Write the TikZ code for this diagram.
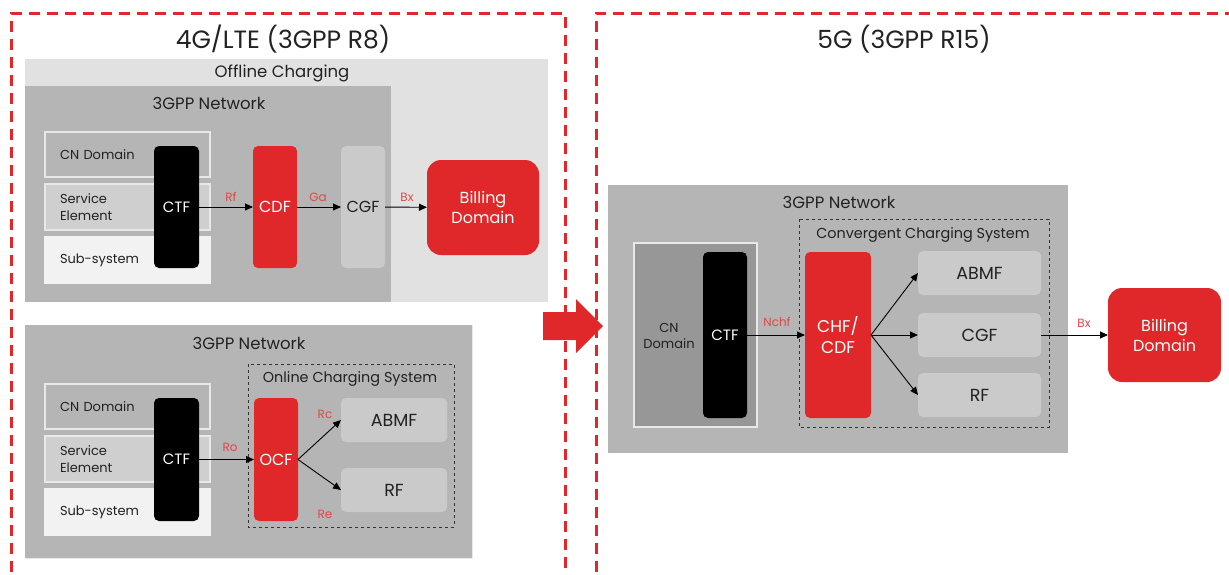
\documentclass[tikz,border=0pt]{standalone}
\usepackage{fontspec}
\setmainfont{Poppins}
\usetikzlibrary{arrows.meta}

\definecolor{chred}{HTML}{E0282A}
\definecolor{ifcred}{HTML}{E04848}
\definecolor{offgray}{HTML}{E1E1E1}
\definecolor{netgray}{HTML}{B5B5B5}
\definecolor{fungray}{HTML}{CACACA}
\definecolor{segray}{HTML}{CFCFCF}
\definecolor{subgray}{HTML}{F2F2F2}
\definecolor{cngray}{HTML}{979797}
\definecolor{edgegray}{HTML}{E8E8E8}
\definecolor{txtgray}{HTML}{222222}

\newcommand{\fs}[1]{\fontsize{#1}{\dimexpr#1pt*5/4\relax}\selectfont}

\begin{document}
\begin{tikzpicture}[x=1pt, y=-1pt,
    every node/.style={inner sep=0pt, outer sep=0pt, text=txtgray},
    region/.style={draw=chred, line width=3pt, dash pattern=on 11pt off 7pt},
    title/.style={font=\fs{25}},
    caption/.style={font=\fs{16.5}},
    elem/.style={draw=edgegray, line width=1.2pt, minimum width=165, minimum height=45,
        text width=135, align=left, font=\fs{13}},
    ctfbox/.style={fill=black, rounded corners=5pt, minimum width=45, text=white, font=\fs{15}},
    redbox/.style={fill=chred, rounded corners=5pt, text=white, font=\fs{16}, align=center},
    graybox/.style={fill=fungray, rounded corners=5pt, font=\fs{17.5}},
    ifc/.style={text=ifcred, font=\fs{12}},
    link/.style={-{Triangle[length=8pt, width=7pt]}, line width=0.9pt, black}
  ]
    \useasboundingbox (0,0) rectangle (1229,574);
    \fill[white] (0,0) rectangle (1229,574);

    % Regions
    \draw[region] (11.5,590) -- (11.5,13) -- (565,13) -- (565,590);
    \draw[region] (596,590) -- (596,13) -- (1240,13);
    \node[title] (t4g) at (283,39) {4G/LTE (3GPP R8)};
    \node[title] (t5g) at (904,39) {5G (3GPP R15)};
    \fill[chred] (543,312) -- (576,312) -- (576,299) -- (603,326) -- (576,353) -- (576,340) -- (543,340) -- cycle;

    % Offline charging
    \fill[offgray] (25,59) rectangle (548,302);
    \node[caption] (offl) at (282,73) {Offline Charging};
    \fill[netgray] (25,86) rectangle (391,302);
    \node[caption] (net1) at (209,103) {3GPP Network};
    \node[elem, fill=netgray] (cn1) at (127.5,154.5) {CN Domain};
    \node[elem, fill=segray, minimum height=46] (se1) at (127.5,207) {Service\\Element};
    \node[elem, fill=subgray, draw=subgray, minimum height=46] (ss1) at (127.5,260) {Sub-system};
    \node[ctfbox, minimum height=122] (ctf1) at (176.5,207) {CTF};
    \node[redbox, minimum width=44, minimum height=122] (cdf) at (275,207) {CDF};
    \node[graybox, minimum width=44, minimum height=122, font=\fs{16}] (cgf1) at (363,207) {CGF};
    \node[redbox, rounded corners=14pt, minimum width=112, minimum height=95] (bd1) at (483,207.5) {Billing\\Domain};

    \draw[link] (ctf1) -- (cdf);
    \draw[link] (cdf) -- (cgf1);
    \draw[link] (cgf1) -- (bd1);
    \node[ifc] (rf) at (231,197) {Rf};
    \node[ifc] (ga) at (318,197) {Ga};
    \node[ifc] (bx1) at (407,197) {Bx};

    % Online charging
    \fill[netgray] (25,325) rectangle (472,558);
    \draw[edgegray, line width=1pt] (25,558) -- (472,558) -- (472,325);
    \node[caption] (net2) at (249,343) {3GPP Network};
    \draw[black!80, dashed, line width=0.8pt] (248,364) rectangle (454,527);
    \node[font=\fs{14.4}] (ocs) at (350,379) {Online Charging System};
    \node[elem, fill=netgray] (cn2) at (127.5,406.5) {CN Domain};
    \node[elem, fill=segray, minimum height=46] (se2) at (127.5,459) {Service\\Element};
    \node[elem, fill=subgray, draw=subgray, minimum height=46] (ss2) at (127.5,512) {Sub-system};
    \node[ctfbox, minimum height=123] (ctf2) at (176.5,459.5) {CTF};
    \node[redbox, minimum width=44, minimum height=123] (ocf) at (276,459.5) {OCF};
    \node[graybox, minimum width=106, minimum height=44] (abmf1) at (394,420) {ABMF};
    \node[graybox, minimum width=106, minimum height=44] (rf1) at (394,490) {RF};

    \draw[link] (ctf2) -- (ocf);
    \draw[link] (ocf.east) -- (abmf1.west);
    \draw[link] (ocf.east) -- (rf1.west);
    \node[ifc] (ro) at (230,447) {Ro};
    \node[ifc] (rc) at (325,414) {Rc};
    \node[ifc] (re) at (325,514) {Re};

    % Convergent charging
    \fill[netgray] (608,185) rectangle (1068,453);
    \node[caption] (net3) at (839,202) {3GPP Network};
    \draw[black!80, dashed, line width=0.8pt] (799,219) rectangle (1049,427);
    \node[font=\fs{14.4}] (ccs) at (923,235) {Convergent Charging System};
    \node[draw=edgegray, line width=1.2pt, fill=cngray, minimum width=123, minimum height=184] (cn3) at (695.5,335) {};
    \node[font=\fs{13}, align=center] (cn3txt) at (669,336) {CN\\Domain};
    \node[ctfbox, minimum width=44, minimum height=166] (ctf3) at (725,335) {CTF};
    \node[redbox, minimum width=66, minimum height=166, font=\fs{17}] (chf) at (838,335) {CHF/\\CDF};
    \node[graybox, minimum width=123, minimum height=44] (abmf2) at (979.5,273) {ABMF};
    \node[graybox, minimum width=123, minimum height=44] (cgf2) at (979.5,335) {CGF};
    \node[graybox, minimum width=123, minimum height=44] (rf2) at (979.5,395) {RF};
    \node[redbox, rounded corners=14pt, minimum width=113, minimum height=94] (bd2) at (1164.5,335) {Billing\\Domain};

    \draw[link] (ctf3) -- (chf);
    \draw[link] (chf.east) -- (abmf2.west);
    \draw[link] (chf.east) -- (cgf2.west);
    \draw[link] (chf.east) -- (rf2.west);
    \draw[link] (cgf2) -- (bd2);
    \node[ifc] (nchf) at (777,322) {Nchf};
    \node[ifc] (bx2) at (1084,323) {Bx};
\end{tikzpicture}
\end{document}
